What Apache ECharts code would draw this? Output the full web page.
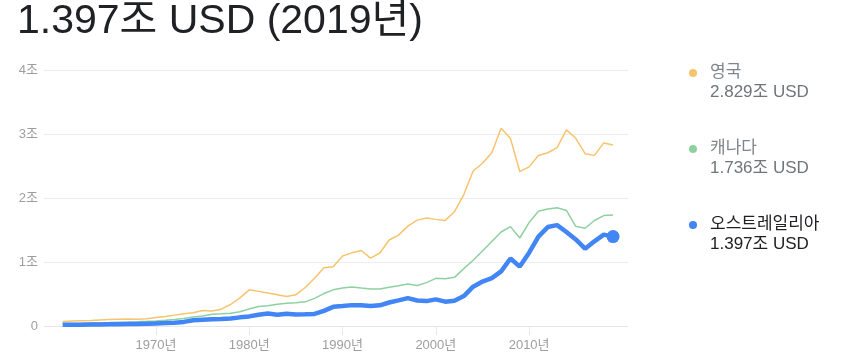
<!DOCTYPE html>
<html><head><meta charset="utf-8">
<script src="https://cdn.jsdelivr.net/npm/echarts@6/dist/echarts.min.js"></script>
<style>html,body{margin:0;padding:0;background:#fff}#c{width:844px;height:361px}</style>
</head><body><div id="c"></div>
<script>
const years = [];
for (let y = 1960; y <= 2019; y++) years.push(y);
const seriesNames = ['영국', '캐나다', '오스트레일리아'];
const uk = [0.072,0.077,0.081,0.085,0.093,0.101,0.107,0.111,0.105,0.113,
  0.131,0.148,0.170,0.193,0.206,0.242,0.233,0.263,0.336,0.439,
  0.565,0.541,0.515,0.490,0.462,0.489,0.602,0.745,0.910,0.927,
  1.093,1.143,1.180,1.061,1.141,1.344,1.420,1.561,1.654,1.688,
  1.666,1.650,1.786,2.054,2.422,2.543,2.708,3.091,2.929,2.413,
  2.486,2.664,2.707,2.786,3.065,2.933,2.693,2.666,2.861,2.829];
const canada = [0.041,0.041,0.042,0.045,0.049,0.053,0.058,0.062,0.067,0.073,
  0.080,0.089,0.101,0.118,0.140,0.155,0.184,0.190,0.200,0.224,
  0.266,0.306,0.315,0.341,0.355,0.365,0.377,0.431,0.507,0.565,
  0.594,0.610,0.592,0.577,0.578,0.604,0.629,0.655,0.634,0.678,
  0.745,0.739,0.760,0.896,1.027,1.173,1.319,1.469,1.553,1.375,
  1.617,1.793,1.828,1.847,1.806,1.557,1.528,1.649,1.725,1.736];
const australia = [0.019,0.020,0.020,0.022,0.024,0.026,0.027,0.030,0.033,0.037,
  0.041,0.045,0.052,0.064,0.089,0.097,0.105,0.110,0.118,0.135,
  0.150,0.177,0.194,0.177,0.193,0.180,0.182,0.189,0.236,0.299,
  0.311,0.326,0.325,0.312,0.323,0.367,0.400,0.435,0.399,0.389,
  0.416,0.380,0.396,0.468,0.614,0.695,0.748,0.854,1.055,0.928,
  1.146,1.397,1.546,1.576,1.468,1.352,1.208,1.323,1.428,1.397];
const xTickYears = [1970, 1980, 1990, 2000, 2010];
const yTicks = [0, 1, 2, 3, 4];
const colors = ['#f7c36d', '#8fd0a0', '#4285f4'];
const allData = [uk, canada, australia];

const FONT = '"Liberation Sans", Arial, "Noto Sans CJK KR", sans-serif';
const fmtT = v => v.toFixed(3) + '조 USD';
const pairs = arr => arr.map((v, i) => [years[i], v]);
const lastIdx = years.length - 1;

const legendGraphics = [];
seriesNames.forEach((name, i) => {
  const top = 64 + i * 76;
  const main = i === 2;
  legendGraphics.push({
    type: 'circle', left: 689, top: top + 5,
    shape: { r: 4 }, style: { fill: colors[i] }
  });
  legendGraphics.push({
    type: 'text', left: 710, top: top,
    style: { text: name, font: '17px ' + FONT, fill: main ? '#202124' : '#80868b' }
  });
  legendGraphics.push({
    type: 'text', left: 710, top: top + 20,
    style: { text: fmtT(allData[i][lastIdx]), font: '17px ' + FONT, fill: main ? '#202124' : '#70757a' }
  });
});

const chart = echarts.init(document.getElementById('c'), null, { renderer: 'canvas' });
chart.setOption({
  animation: false,
  title: {
    text: fmtT(australia[lastIdx]) + ' (' + years[lastIdx] + '년)',
    left: 17, top: 1, padding: 0,
    textStyle: { fontFamily: FONT, fontSize: 41, fontWeight: 'normal', color: '#202124' }
  },
  grid: { left: 44, right: 216, top: 70, bottom: 35, containLabel: false },
  xAxis: {
    type: 'value', min: 1958, max: 2020.6,
    axisLine: { show: true, lineStyle: { color: '#e6e6e6', width: 1 } },
    axisTick: { show: true, customValues: xTickYears, length: 9, lineStyle: { color: '#e6e6e6' } },
    axisLabel: { customValues: xTickYears, formatter: v => v + '년', color: '#9e9e9e',
      fontSize: 13, fontFamily: FONT, margin: 13 },
    splitLine: { show: false }
  },
  yAxis: {
    type: 'value', min: 0, max: 4, interval: 1,
    axisLine: { show: false }, axisTick: { show: false },
    axisLabel: { formatter: v => v === 0 ? '0' : v + '조', color: '#9e9e9e',
      fontSize: 13, fontFamily: FONT, margin: 6 },
    splitLine: { lineStyle: { color: '#ececec', width: 1 } }
  },
  series: [
    { name: seriesNames[0], type: 'line', data: pairs(uk), showSymbol: false,
      lineStyle: { color: colors[0], width: 1.5 }, z: 2 },
    { name: seriesNames[1], type: 'line', data: pairs(canada), showSymbol: false,
      lineStyle: { color: colors[1], width: 1.5 }, z: 3 },
    { name: seriesNames[2], type: 'line', data: pairs(australia), showSymbol: false,
      lineStyle: { color: colors[2], width: 4.5 }, z: 4 },
    { name: seriesNames[2] + '-end', type: 'scatter', data: [[years[lastIdx], australia[lastIdx]]],
      symbolSize: 13, itemStyle: { color: colors[2], opacity: 1 }, z: 5 }
  ],
  graphic: legendGraphics
});
</script></body></html>
